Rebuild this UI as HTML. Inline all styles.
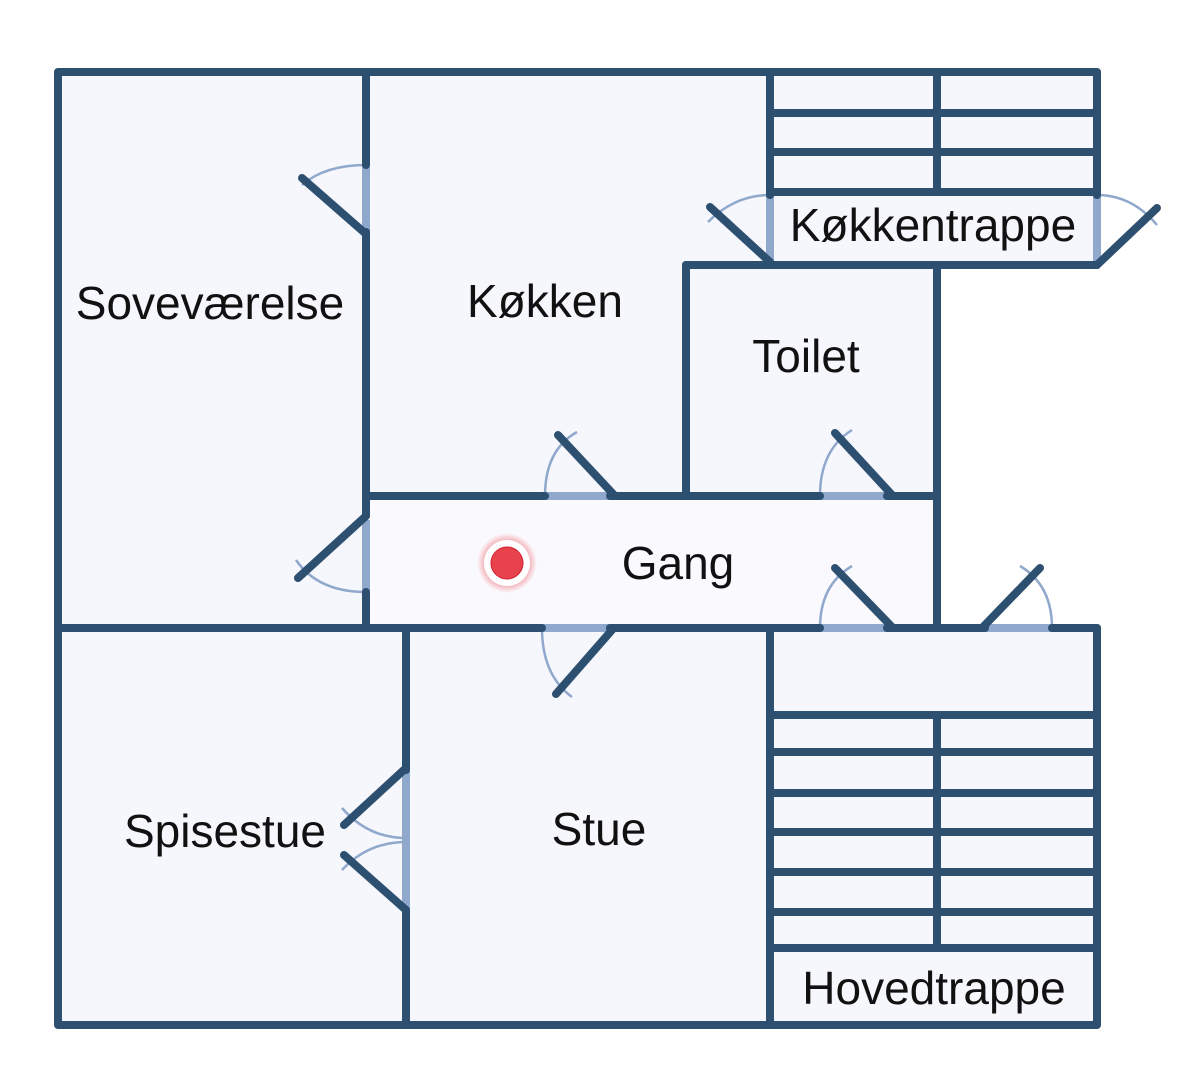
<!DOCTYPE html>
<html><head><meta charset="utf-8"><style>
html,body{margin:0;padding:0;background:#fff;width:1200px;height:1092px;overflow:hidden}
svg text{font-family:"Liberation Sans",sans-serif;font-size:46px;fill:#111;text-anchor:middle}
</style></head><body>
<svg width="1200" height="1092" viewBox="0 0 1200 1092">
<defs>
<radialGradient id="g" cx="0.5" cy="0.5" r="0.5"><stop offset="0.6" stop-color="#e8424c"/><stop offset="1" stop-color="#e8424c" stop-opacity="0"/></radialGradient>
</defs>
<path d="M58 72 H1097 V265 H937 V628 H1097 V1025 H58 Z" fill="#f6f6fd"/>
<rect x="366" y="496" width="571" height="132" fill="#fafafe"/>
<g stroke="#8fa8cc" stroke-width="8" fill="none">
<line x1="366" y1="165" x2="366" y2="232"/>
<line x1="366" y1="520" x2="366" y2="592"/>
<line x1="545" y1="496" x2="610" y2="496"/>
<line x1="820" y1="496" x2="887" y2="496"/>
<line x1="542" y1="628" x2="610" y2="628"/>
<line x1="820" y1="628" x2="887" y2="628"/>
<line x1="985" y1="628" x2="1052" y2="628"/>
<line x1="406" y1="770" x2="406" y2="910"/>
<line x1="770" y1="195" x2="770" y2="262"/>
<line x1="1097" y1="195" x2="1097" y2="262"/>
</g>
<g stroke="#8fa8cc" stroke-width="2.5" fill="none">
<path d="M366 165 Q325 165 302 185"/>
<path d="M366 592 Q318 592 296 560"/>
<path d="M545 496 Q545 450 577 432"/>
<path d="M820 496 Q820 450 852 430"/>
<path d="M542 628 Q542 675 572 697"/>
<path d="M820 628 Q820 585 852 566"/>
<path d="M1052 628 Q1052 585 1020 566"/>
<path d="M406 838 Q368 838 342 808"/>
<path d="M406 842 Q368 842 342 870"/>
<path d="M770 195 Q735 195 708 222"/>
<path d="M1097 195 Q1132 195 1157 225"/>
</g>
<g stroke="#2d5070" stroke-width="8" fill="none" stroke-linecap="round" stroke-linejoin="round">
<path d="M1097 195 V72 H58 V1025 H1097 V628"/>
<line x1="366" y1="72" x2="366" y2="165"/>
<line x1="366" y1="232" x2="366" y2="516"/>
<line x1="366" y1="592" x2="366" y2="628"/>
<line x1="58" y1="628" x2="542" y2="628"/>
<line x1="610" y1="628" x2="820" y2="628"/>
<line x1="887" y1="628" x2="985" y2="628"/>
<line x1="1052" y1="628" x2="1097" y2="628"/>
<line x1="366" y1="496" x2="545" y2="496"/>
<line x1="610" y1="496" x2="820" y2="496"/>
<line x1="887" y1="496" x2="937" y2="496"/>
<line x1="686" y1="265" x2="686" y2="496"/>
<line x1="937" y1="265" x2="937" y2="628"/>
<line x1="686" y1="265" x2="1097" y2="265"/>
<line x1="770" y1="72" x2="770" y2="195"/>
<line x1="770" y1="113" x2="1097" y2="113"/>
<line x1="770" y1="152" x2="1097" y2="152"/>
<line x1="770" y1="192" x2="1097" y2="192"/>
<line x1="937" y1="72" x2="937" y2="192"/>
<line x1="406" y1="628" x2="406" y2="770"/>
<line x1="406" y1="910" x2="406" y2="1025"/>
<line x1="770" y1="628" x2="770" y2="1025"/>
<line x1="770" y1="715" x2="1097" y2="715"/>
<line x1="770" y1="752" x2="1097" y2="752"/>
<line x1="770" y1="793" x2="1097" y2="793"/>
<line x1="770" y1="832" x2="1097" y2="832"/>
<line x1="770" y1="872" x2="1097" y2="872"/>
<line x1="770" y1="912" x2="1097" y2="912"/>
<line x1="770" y1="948" x2="1097" y2="948"/>
<line x1="937" y1="715" x2="937" y2="948"/>
<line x1="366" y1="234" x2="302" y2="178"/>
<line x1="366" y1="516" x2="298" y2="578"/>
<line x1="615" y1="496" x2="558" y2="435"/>
<line x1="893" y1="496" x2="835" y2="433"/>
<line x1="612" y1="630" x2="556" y2="694"/>
<line x1="893" y1="628" x2="835" y2="568"/>
<line x1="982" y1="628" x2="1040" y2="568"/>
<line x1="406" y1="768" x2="344" y2="825"/>
<line x1="406" y1="910" x2="344" y2="855"/>
<line x1="770" y1="262" x2="710" y2="207"/>
<line x1="1097" y1="265" x2="1157" y2="208"/>
</g>
<circle cx="507" cy="563" r="30" fill="url(#g)" opacity="0.6"/>
<circle cx="507" cy="563" r="23" fill="#fff"/>
<circle cx="507" cy="563" r="16" fill="#e8424c" stroke="#d02030" stroke-width="1"/>
<text x="210" y="319">Soveværelse</text>
<text x="545" y="317">Køkken</text>
<text x="806" y="372">Toilet</text>
<text x="678" y="579">Gang</text>
<text x="933" y="241">Køkkentrappe</text>
<text x="225" y="847">Spisestue</text>
<text x="599" y="845">Stue</text>
<text x="934" y="1004">Hovedtrappe</text>
</svg>
</body></html>
